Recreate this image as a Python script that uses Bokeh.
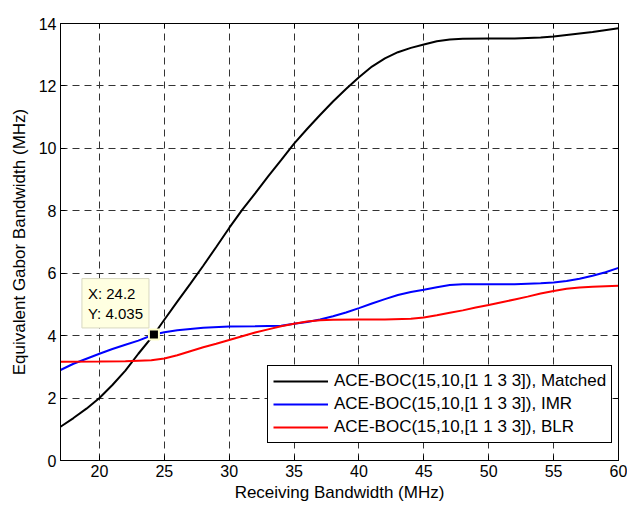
from bokeh.plotting import figure
from bokeh.models import LinearAxis, Legend, LegendItem, Label, Range1d, FixedTicker
from bokeh.embed import file_html
from bokeh.resources import INLINE

# ---- data ----
matched_x = [17, 18, 19, 20, 21, 22, 23, 24.2, 25, 26, 27, 28, 29, 30, 31, 32, 33, 34, 35,
             36, 37, 38, 39, 40, 41, 42, 43, 44, 45, 46, 47, 48, 50, 52, 54, 55, 56, 58, 60]
matched_y = [1.08, 1.36, 1.66, 2.0, 2.42, 2.88, 3.42, 4.035, 4.51, 5.09, 5.66, 6.24, 6.84, 7.45,
             8.03, 8.56, 9.1, 9.62, 10.15, 10.62, 11.07, 11.5, 11.9, 12.28, 12.62, 12.88, 13.08,
             13.22, 13.33, 13.43, 13.49, 13.51, 13.52, 13.52, 13.55, 13.58, 13.63, 13.73, 13.85]

imr_x = [17, 18, 19, 20, 21, 22, 23, 24.2, 25, 26, 27, 28, 30, 32, 34, 35, 36, 37, 38, 39, 40, 41, 42,
         43, 44, 45, 46, 47, 48, 50, 52, 54, 55, 56, 57, 58, 59, 60]
imr_y = [2.9, 3.1, 3.26, 3.42, 3.57, 3.71, 3.84, 4.035, 4.11, 4.17, 4.21, 4.25, 4.29, 4.3, 4.32, 4.38,
         4.44, 4.52, 4.62, 4.74, 4.88, 5.03, 5.17, 5.3, 5.4, 5.47, 5.55, 5.62, 5.65, 5.65, 5.65, 5.68,
         5.7, 5.75, 5.82, 5.92, 6.03, 6.17]

blr_x = [17, 20, 22, 24, 25, 26, 27, 28, 29, 30, 31, 32, 33, 34, 35, 36, 37, 38, 40, 42, 44, 45, 46,
         47, 48, 49, 50, 51, 52, 53, 54, 55, 56, 57, 58, 60]
blr_y = [3.16, 3.17, 3.18, 3.21, 3.27, 3.37, 3.5, 3.63, 3.74, 3.86, 3.98, 4.1, 4.2, 4.3, 4.38, 4.45,
         4.49, 4.51, 4.52, 4.52, 4.54, 4.58, 4.65, 4.73, 4.81, 4.9, 4.98, 5.07, 5.16, 5.25, 5.35, 5.43,
         5.5, 5.54, 5.57, 5.6]

tip_x = [24.2]
tip_y = [4.035]

x_ticks = [20, 25, 30, 35, 40, 45, 50, 55, 60]
y_ticks = [0, 2, 4, 6, 8, 10, 12, 14]

series_labels = ["ACE-BOC(15,10,[1 1 3 3]), Matched",
                 "ACE-BOC(15,10,[1 1 3 3]), IMR",
                 "ACE-BOC(15,10,[1 1 3 3]), BLR"]

FONT = "Liberation Sans"

p = figure(width=627, height=506, x_range=Range1d(17, 60), y_range=Range1d(0, 14),
           output_backend="svg", toolbar_location=None,
           min_border_left=60, min_border_right=9, min_border_top=23, min_border_bottom=46)
p.background_fill_color = "white"
p.border_fill_color = "white"
p.outline_line_color = "black"
p.outline_line_width = 1
p.outline_line_alpha = 1

for ax in (p.xaxis[0], p.yaxis[0]):
    ax.major_tick_in = 5
    ax.major_tick_out = 0
    ax.minor_tick_line_color = None
    ax.axis_line_color = "black"
    ax.major_tick_line_color = "black"
    ax.major_label_text_font = FONT
    ax.major_label_text_font_size = "16px"
    ax.major_label_text_color = "black"
    ax.axis_label_text_font = FONT
    ax.axis_label_text_font_size = "17px"
    ax.axis_label_text_font_style = "normal"
    ax.axis_label_text_color = "black"
    ax.major_label_standoff = 4

p.xaxis[0].ticker = FixedTicker(ticks=x_ticks)
p.yaxis[0].ticker = FixedTicker(ticks=y_ticks)
p.xaxis[0].axis_label = "Receiving Bandwidth (MHz)"
p.yaxis[0].axis_label = "Equivalent Gabor Bandwidth (MHz)"
p.xaxis[0].axis_label_standoff = 3
p.yaxis[0].axis_label_standoff = 7

for loc, ticks in (("above", x_ticks), ("right", y_ticks)):
    ax = LinearAxis(ticker=FixedTicker(ticks=ticks), major_tick_in=5, major_tick_out=0,
                    minor_tick_line_color=None, axis_line_color="black",
                    major_label_text_color=None, major_label_standoff=0)
    p.add_layout(ax, loc)

p.xgrid.ticker = FixedTicker(ticks=x_ticks)
p.ygrid.ticker = FixedTicker(ticks=y_ticks)
for g in (p.xgrid[0], p.ygrid[0]):
    g.grid_line_color = "#333333"
    g.grid_line_dash = "7 5"
    g.grid_line_width = 1
    g.grid_line_alpha = 1

r1 = p.line(matched_x, matched_y, line_color="black", line_width=2)
r2 = p.line(imr_x, imr_y, line_color="blue", line_width=2)
r3 = p.line(blr_x, blr_y, line_color="red", line_width=2)

p.scatter(tip_x, tip_y, marker="square", size=10, fill_color="black",
          line_color="#ffffcc", line_width=2)

tip = Label(x=tip_x[0], y=tip_y[0], x_units="data", y_units="data",
            text="X: %.1f\nY: %.3f" % (tip_x[0], tip_y[0]),
            text_font=FONT, text_font_size="15px", text_color="black",
            text_align="left", text_baseline="top",
            x_offset=-72, y_offset=56,
            background_fill_color="#ffffe1", background_fill_alpha=1,
            border_line_color="#d8d8c0", border_line_width=1, padding=6)
p.add_layout(tip)

legend = Legend(items=[LegendItem(label=series_labels[0], renderers=[r1]),
                       LegendItem(label=series_labels[1], renderers=[r2]),
                       LegendItem(label=series_labels[2], renderers=[r3])],
                location=(207, 17))
legend.label_text_font = FONT
legend.label_text_font_size = "17px"
legend.label_text_color = "black"
legend.glyph_width = 55
legend.glyph_height = 20
legend.label_height = 20
legend.label_standoff = 6
legend.spacing = 3
legend.padding = 5
legend.margin = 0
legend.border_line_color = "black"
legend.border_line_width = 1
legend.border_line_alpha = 1
legend.background_fill_color = "white"
legend.background_fill_alpha = 1
p.add_layout(legend, "center")

open("out.html", "w").write(file_html(p, INLINE))
